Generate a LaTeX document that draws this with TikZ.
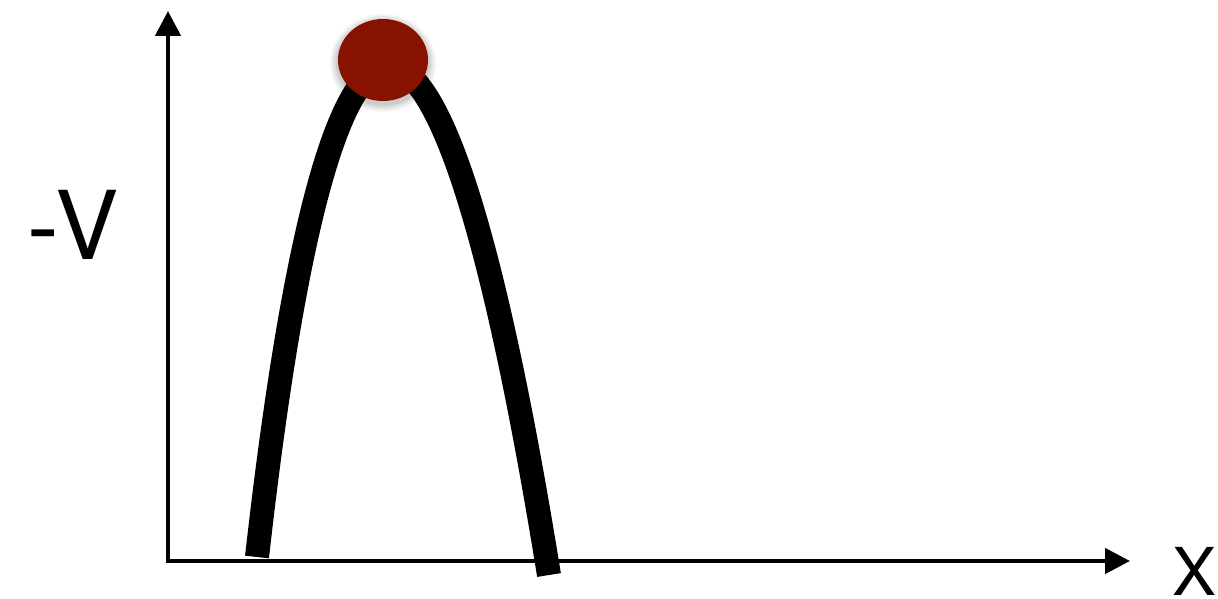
\documentclass[tikz,border=0pt]{standalone}
\usepackage{fontspec}
\setmainfont{TeX Gyre Heros}
\usetikzlibrary{arrows.meta,shapes.geometric}
\definecolor{ballred}{RGB}{136,18,0}
\begin{document}
\begin{tikzpicture}[x=1pt,y=-1pt,
  axis/.style={line width=4.5pt,-{Triangle[length=25pt,width=25pt]}},
  curvestyle/.style={line width=24pt,line cap=butt},
  ballstyle/.style={ellipse,fill=ballred,minimum width=90pt,minimum height=82pt,inner sep=0pt},
  lbl/.style={inner sep=0pt,anchor=base}]
\useasboundingbox (0,0) rectangle (1218,599);
% axes
\coordinate (ytip) at (168,11);
\coordinate (xtip) at (1130,561);
\coordinate (ybot) at (168,563.3);
\coordinate (xleft) at (165.8,561);
\draw[axis] (ybot) -- (ytip);
\draw[axis] (xleft) -- (xtip);
% curve
\coordinate (cl) at (257,557);
\coordinate (cr) at (549,575);
\draw[curvestyle] (cl) .. controls (331,-100) and (440,-100) .. (cr);
% shadow
\foreach \i/\o in {8/0.04,6/0.05,4/0.06,2/0.07}{
  \fill[black,opacity=\o] (383,63) ellipse ({45+\i} and {41+\i});
}
\node[ballstyle] (ball) at (383,60) {};
% labels
\node[lbl,font=\fontsize{95}{95}\selectfont] (vlab) at (73,259) {-V};
\node[lbl,font=\fontsize{66}{66}\selectfont] (xlab) at (1194.5,595) {X};
\end{tikzpicture}
\end{document}
